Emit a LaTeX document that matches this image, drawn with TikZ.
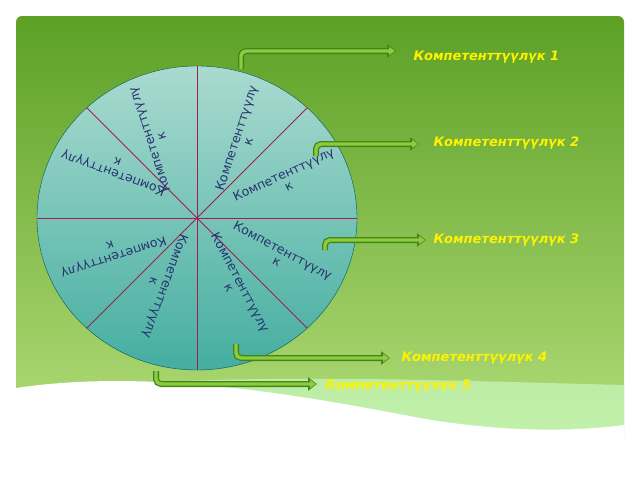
\documentclass[tikz,border=0pt]{standalone}
\usepackage{fontspec}
\setmainfont{DejaVu Sans}
\usetikzlibrary{arrows.meta,positioning,shapes.geometric}
\definecolor{slidetop}{RGB}{92,160,38}
\definecolor{slidebot}{RGB}{178,220,120}
\definecolor{wheeltop}{RGB}{170,218,208}
\definecolor{wheelbot}{RGB}{68,174,160}
\definecolor{spoke}{RGB}{160,30,80}
\definecolor{ink}{RGB}{40,50,110}
\definecolor{arrdark}{RGB}{70,130,30}
\definecolor{arrlite}{RGB}{140,205,60}
\tikzset{sect/.style={text=ink,font=\fontsize{12.5}{12.5}\selectfont,align=center,inner sep=0pt},
  lab/.style={text=yellow,font=\bfseries\itshape\fontsize{13}{13}\selectfont,anchor=west},
  outer/.style={draw=arrdark,line width=6pt,rounded corners=5pt,-{Triangle[length=9pt,width=13pt]}},
  inner/.style={draw=arrlite,line width=3.4pt,rounded corners=5pt,-{Triangle[length=6pt,width=8pt]}}}
\begin{document}
\begin{tikzpicture}[x=1pt,y=-1pt]
    \useasboundingbox (0,0) rectangle (640,480);
    \fill[white] (0,0) rectangle (640,480);
    \shade[top color=slidetop,bottom color=slidebot,rounded corners=6pt] (16,16) rectangle (624,440);
    % white wave at the bottom
    \fill[green!20!white,opacity=0.6] (16,395) .. controls (200,370) and (420,380) .. (624,385) -- (624,440) -- (16,440) -- cycle;
    \fill[white] (16,388) .. controls (150,368) and (300,395) .. (420,418) .. controls (500,432) and (570,432) .. (624,425) -- (624,480) -- (0,480) -- (0,388) -- cycle;

    \node[draw=teal!70!black,ellipse,minimum width=320pt,minimum height=304pt,inner sep=0pt,top color=wheeltop,bottom color=wheelbot] (w) at (197,218) {};
    \foreach \a in {0,45,...,315}
        \draw[spoke,line width=0.8pt] (w.center) -- (w.\a);

    \node[sect,rotate=72] (s1) at (242,140) {Компетенттүүлү\\к};
    \node[sect,rotate=25] (s2) at (286,180) {Компетенттүүлү\\к};
    \node[sect,rotate=-28] (s3) at (280,256) {Компетенттүүлү\\к};
    \node[sect,rotate=-62] (s4) at (235,285) {Компетенттүүлү\\к};
    \node[sect,rotate=250] (s5) at (160,284) {Компетенттүүлү\\к};
    \node[sect,rotate=198] (s6) at (112,252) {Компетенттүүлү\\к};
    \node[sect,rotate=160] (s7) at (115,168) {Компетенттүүлү\\к};
    \node[sect,rotate=108] (s8) at (155,138) {Компетенттүүлү\\к};

    \node[lab] (l1) at (410,57) {Компетенттүүлүк 1};
    \node[lab] (l2) at (430,143) {Компетенттүүлүк 2};
    \node[lab] (l3) at (430,240) {Компетенттүүлүк 3};
    \node[lab] (l4) at (398,358) {Компетенттүүлүк 4};
    \node[lab] (l5) at (322,386) {Компетенттүүлүк 5};

    \coordinate (a1) at (241,69);
    \coordinate (a2) at (316,156);
    \coordinate (a3) at (325,250);
    \coordinate (a4) at (236,344);
    \coordinate (a5) at (156,371);
    \foreach \s/\e/\y/\x in {a1/l1/51/396,a2/l2/144/419,a3/l3/240/426,a4/l4/358/390,a5/l5/384/317}{
        \draw[outer] (\s) |- (\x,\y);
        \draw[inner] (\s) |- (\x-1,\y);
    }
\end{tikzpicture}
\end{document}
